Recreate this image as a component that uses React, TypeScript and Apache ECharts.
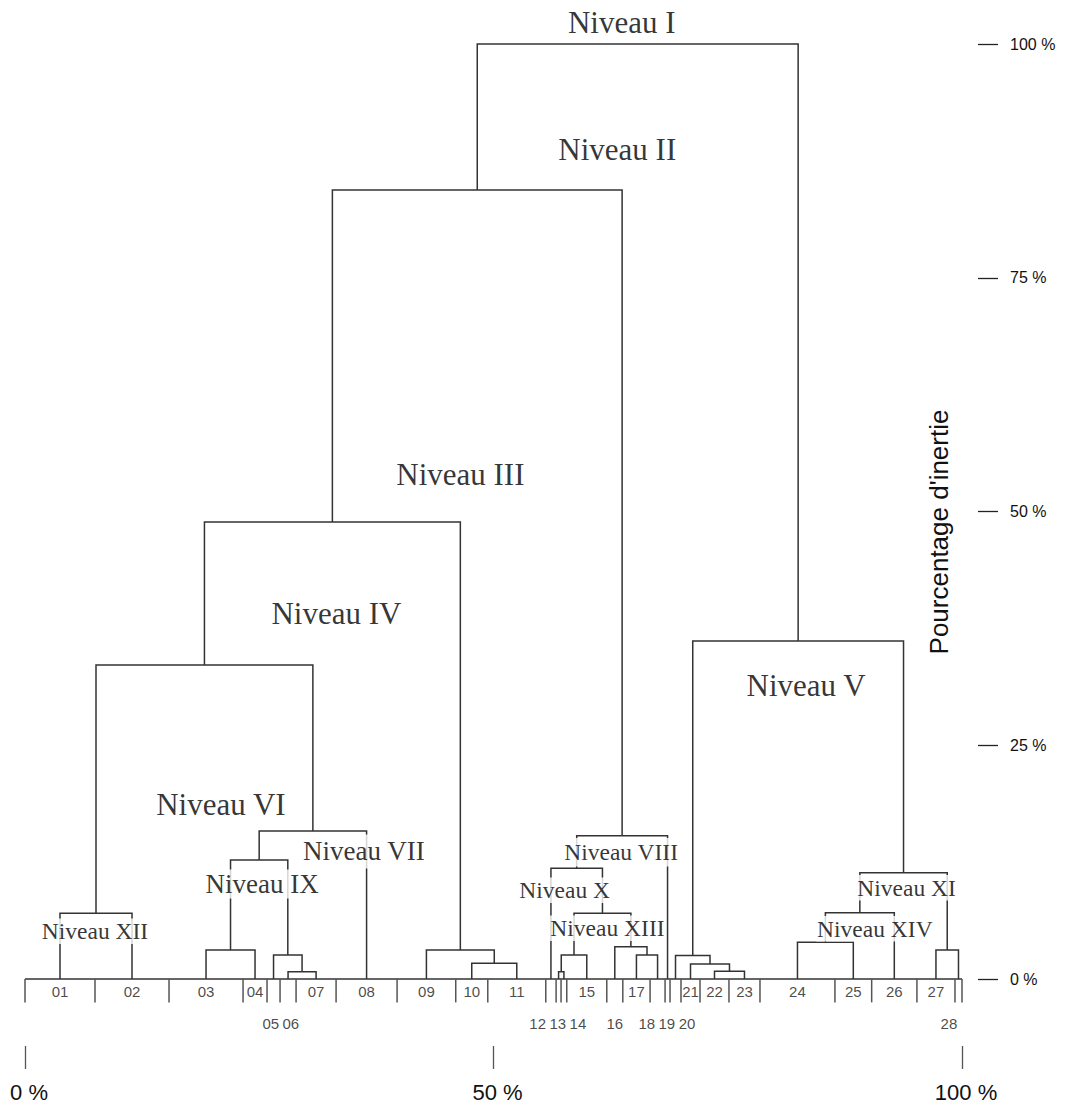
import React, { useEffect, useRef } from "react";
import * as echarts from "echarts";

// ---------- DATA ----------
const leafNames = [
  "01", "02", "03", "04", "05", "06", "07", "08", "09", "10",
  "11", "12", "13", "14", "15", "16", "17", "18", "19", "20",
  "21", "22", "23", "24", "25", "26", "27", "28",
];
// leaf weights (percent of total width)
const leafWeights = [
  7.47, 7.9, 7.9, 2.56, 1.39, 1.71, 4.27, 6.51, 6.26, 3.42,
  6.19, 1.1, 0.53, 0.61, 4.27, 1.71, 2.91, 1.6, 0.53, 1.17,
  2.03, 3.09, 3.31, 8.0, 3.92, 4.83, 4.06, 0.75,
];
// leaves whose label is written on the second row
const lowerRowLeaves = ["05", "06", "12", "13", "14", "16", "18", "19", "20", "28"];

// merges: children (leaf name or "#k" = k-th merge) and height (% inertia)
const mergeLeft = [
  "01", "03", "06", "05", "#1", "#4", "#0", "10", "09", "#6",
  "13", "#10", "17", "16", "#11", "12", "#15", "#9", "22", "21",
  "20", "24", "#21", "27", "#22", "#20", "#17",
];
const mergeRight = [
  "02", "04", "07", "#2", "#3", "08", "#5", "11", "#7", "#8",
  "14", "15", "18", "#12", "#13", "#14", "19", "#16", "23", "#18",
  "#19", "25", "26", "28", "#23", "#24", "#25",
];
const mergeHeights = [
  7.02, 3.1, 0.78, 2.57, 12.73, 15.83, 33.58, 1.68, 3.1, 48.88,
  0.78, 2.57, 2.57, 3.45, 7.03, 11.84, 15.33, 84.39, 0.82, 1.6,
  2.51, 3.92, 7.09, 3.1, 11.37, 36.15, 100,
];

// level labels and the merge each one annotates
const levelNames = [
  "Niveau I", "Niveau II", "Niveau III", "Niveau IV", "Niveau V", "Niveau VI", "Niveau VII",
  "Niveau VIII", "Niveau IX", "Niveau X", "Niveau XI", "Niveau XII", "Niveau XIII", "Niveau XIV",
];
const levelMerge = [26, 17, 9, 6, 25, 5, 5, 16, 4, 15, 24, 0, 14, 22];

const yTicks = [0, 25, 50, 75, 100];
const xTicks = [0, 50, 100];
const yAxisTitle = "Pourcentage d'inertie";

// ---------- LAYOUT (pixels) ----------
const W = 1085;
const H = 1109;
const GRID = { left: 25, right: W - 962, top: 44, bottom: H - 979 };
const SERIF = "'Liberation Serif', 'Times New Roman', serif";
const SANS = "'Liberation Sans', Arial, Helvetica, sans-serif";
const LINE = "#333";
// label offsets relative to their merge node [dx, dy, fontSize, extra top padding]
const levelLayout: Record<string, [number, number, number, number]> = {
  "Niveau I": [-16, -22, 31, 0],
  "Niveau II": [140, -40, 31, 0],
  "Niveau III": [128, -47, 31, 0],
  "Niveau IV": [132, -52, 31, 0],
  "Niveau V": [8, 45, 31, 0],
  "Niveau VI": [-92, -26, 31, 0],
  "Niveau VII": [51, 23, 27, 5],
  "Niveau VIII": [-1, 18, 23.5, 3],
  "Niveau IX": [3, 24, 27, 0],
  "Niveau X": [-12, 22, 23.5, 0],
  "Niveau XI": [3, 15, 23.5, 0],
  "Niveau XII": [-1, 18, 23.5, 0],
  "Niveau XIII": [5, 15, 23.5, 0],
  "Niveau XIV": [15, 16, 23.5, 0],
};

function buildTree() {
  const total = leafWeights.reduce((a, b) => a + b, 0);
  const k = 100 / total;
  const pos: Record<string, { x: number; h: number }> = {};
  const bounds: number[] = [0];
  let cum = 0;
  leafNames.forEach((name, i) => {
    const w = leafWeights[i] * k;
    pos[name] = { x: cum + w / 2, h: 0 };
    cum += w;
    bounds.push(cum);
  });
  const segs: number[][][] = [];
  mergeLeft.forEach((l, i) => {
    const a = pos[l];
    const b = pos[mergeRight[i]];
    const h = mergeHeights[i];
    segs.push([
      [a.x, a.h],
      [a.x, h],
      [b.x, h],
      [b.x, b.h],
    ]);
    pos["#" + i] = { x: (a.x + b.x) / 2, h };
  });
  return { pos, bounds, segs };
}

function buildOption() {
  const { pos, bounds, segs } = buildTree();
  const lineData: any[] = [];
  lineData.push({ coords: [[0, 0], [100, 0]] });
  bounds.forEach((b) => lineData.push({ coords: [[b, 0], [b, -2.5]], lineStyle: { color: "#555" } }));
  segs.forEach((s) => lineData.push({ coords: s }));

  // leaf labels
  const upper: any[] = [];
  const lower: { name: string; x: number }[] = [];
  leafNames.forEach((name) => {
    if (lowerRowLeaves.includes(name)) lower.push({ name, x: pos[name].x });
    else upper.push({ name, value: [pos[name].x, -1.36] });
  });
  // spread crowded lower labels apart, keep them inside the plot width
  const gap = 2.15;
  const groups: { name: string; x: number }[][] = [];
  lower.forEach((l) => {
    const g = groups[groups.length - 1];
    if (g && l.x - g[g.length - 1].x < gap) g.push(l);
    else groups.push([l]);
  });
  const lowerData: any[] = [];
  groups.forEach((g) => {
    const m = g.reduce((a, b) => a + b.x, 0) / g.length;
    g.forEach((l, i) => {
      const x = Math.min(98.6, m + (i - (g.length - 1) / 2) * gap);
      lowerData.push({ name: l.name, value: [x, -4.8] });
    });
  });

  const levelData = levelNames.map((name, i) => {
    const node = pos["#" + levelMerge[i]];
    const [dx, dy, fs, pt] = levelLayout[name];
    return {
      name,
      value: [node.x, node.h],
      label: {
        offset: [dx, dy - pt / 2],
        fontSize: fs,
        lineHeight: fs + 2,
        padding: [pt, 1, 0, 1],
      },
    };
  });

  return {
    animation: false,
    backgroundColor: "#fff",
    grid: GRID,
    xAxis: {
      type: "value",
      min: 0,
      max: 100,
      interval: 50,
      position: "bottom",
      offset: 67,
      axisLine: { show: false, onZero: false },
      axisTick: { show: true, length: 23, lineStyle: { color: "#555", width: 1.3 } },
      axisLabel: {
        margin: 35,
        fontSize: 22,
        fontFamily: SANS,
        color: "#111",
        padding: [0, 0, 0, 8],
        formatter: (v: number) => (xTicks.includes(v) ? v + " %" : ""),
      },
      splitLine: { show: false },
    },
    yAxis: {
      type: "value",
      min: 0,
      max: 100,
      interval: 25,
      position: "right",
      offset: 16,
      axisLine: { show: false, onZero: false },
      axisTick: { show: true, length: 20, lineStyle: { color: "#222", width: 1.3 } },
      axisLabel: {
        margin: 32,
        fontSize: 16,
        fontFamily: SANS,
        color: "#111",
        formatter: (v: number) => (yTicks.includes(v) ? v + " %" : ""),
      },
      splitLine: { show: false },
    },
    graphic: [
      {
        type: "text",
        x: 939,
        y: 532,
        rotation: Math.PI / 2,
        style: {
          text: yAxisTitle,
          fontSize: 26,
          fontFamily: SANS,
          fill: "#111",
          align: "center",
          verticalAlign: "middle",
        },
      },
    ],
    series: [
      {
        type: "lines",
        coordinateSystem: "cartesian2d",
        polyline: true,
        clip: false,
        silent: true,
        z: 2,
        lineStyle: { color: LINE, width: 1.5, opacity: 1 },
        data: lineData,
      },
      {
        type: "scatter",
        symbolSize: 0,
        clip: false,
        silent: true,
        z: 3,
        data: upper.concat(lowerData),
        label: {
          show: true,
          position: "inside",
          formatter: "{b}",
          fontSize: 15,
          fontFamily: SANS,
          color: "#1a1a1a",
          textBorderWidth: 0,
        },
      },
      {
        type: "scatter",
        symbolSize: 0,
        clip: false,
        silent: true,
        z: 5,
        data: levelData,
        label: {
          show: true,
          position: "inside",
          formatter: "{b}",
          fontFamily: SERIF,
          color: "#000",
          textBorderWidth: 0,
          backgroundColor: "#fff",
        },
      },
    ],
  };
}

export default function App() {
  const ref = useRef<HTMLDivElement>(null);
  useEffect(() => {
    if (!ref.current) return;
    const chart = echarts.init(ref.current, undefined, { renderer: "svg" });
    chart.setOption(buildOption() as any);
    return () => chart.dispose();
  }, []);
  return (
    <div
      ref={ref}
      style={{ position: "absolute", left: 0, top: 0, width: W, height: H, background: "#fff" }}
    />
  );
}
